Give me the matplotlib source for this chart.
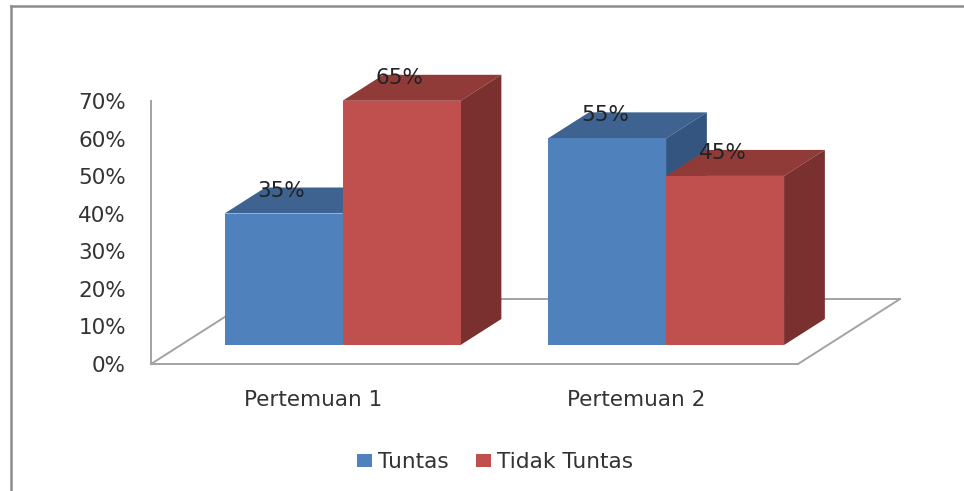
import matplotlib
matplotlib.use("Agg")
import matplotlib.pyplot as plt
from matplotlib.lines import Line2D
from matplotlib.patches import Patch

categories = ["Pertemuan 1", "Pertemuan 2"]
series_names = ["Tuntas", "Tidak Tuntas"]
tuntas = [35, 55]
tidak_tuntas = [65, 45]
y_ticks = [0, 10, 20, 30, 40, 50, 60, 70]

# colours: front, top, side
blue = ("#4F81BD", "#3F6390", "#33557F")
red = ("#C0504D", "#913B38", "#7A302E")
grey = "#A3A3A3"

W, H = 964, 491
fig = plt.figure(figsize=(W / 100, H / 100), dpi=100)
ax = fig.add_axes([151 / W, (H - 364) / H, 647 / W, 263 / H])
ax.set_xlim(0, len(categories))
ax.set_ylim(0, 70)

# fake 3d: the depth of the floor as a shift in data units
shift_x = 102 / 323.5
shift_y = 65 / (263 / 70)
bar_w = 118 / 323.5
d_front = 19 / 65
d_back = 45 / 65


def project(x, y, d):
    return x + d * shift_x, y + d * shift_y


def poly(points, color, z):
    xs, ys = zip(*[project(*p) for p in points])
    ax.fill(xs, ys, color=color, lw=0, zorder=z, clip_on=False)


def draw_bar(x0, value, colors, z):
    x1 = x0 + bar_w
    poly([(x0, value, d_front), (x1, value, d_front), (x1, value, d_back), (x0, value, d_back)], colors[1], z)
    poly([(x1, 0, d_front), (x1, value, d_front), (x1, value, d_back), (x1, 0, d_back)], colors[2], z)
    poly([(x0, 0, d_front), (x1, 0, d_front), (x1, value, d_front), (x0, value, d_front)], colors[0], z + 0.1)
    lx, ly = project(x0 + bar_w / 2, value, d_front)
    ax.annotate(f"{value}%", (lx, ly), xytext=(-1.5, 16.5), textcoords="offset points",
                ha="center", va="center", fontsize=15.5, color="#222222", zorder=10,
                annotation_clip=False)


# floor
n = len(categories)
for a, b in [((0, 0, 0), (0, 0, 1)), ((0, 0, 1), (n, 0, 1)), ((n, 0, 1), (n, 0, 0))]:
    pa, pb = project(*a), project(*b)
    ax.plot([pa[0], pb[0]], [pa[1], pb[1]], color=grey, lw=1.4, zorder=1, clip_on=False)

for i in range(n):
    draw_bar(i + 0.5 - bar_w, tuntas[i], blue, 2 + i * 2)
    draw_bar(i + 0.5, tidak_tuntas[i], red, 3 + i * 2)

ax.set_yticks(y_ticks)
ax.set_yticklabels([f"{v}%" for v in y_ticks], fontsize=15.5, color="#333333")
ax.set_xticks([i + 0.5 for i in range(n)])
ax.set_xticklabels(categories, fontsize=15.5, color="#333333")
ax.tick_params(axis="y", length=0, pad=18)
ax.tick_params(axis="x", length=0, pad=19)
ax.spines["top"].set_visible(False)
ax.spines["right"].set_visible(False)
for s in ["left", "bottom"]:
    ax.spines[s].set_color(grey)
    ax.spines[s].set_linewidth(1.4)
ax.patch.set_alpha(0)

handles = [Patch(facecolor=blue[0], label=series_names[0]),
           Patch(facecolor=red[0], label=series_names[1])]
fig.legend(handles=handles, loc="center", bbox_to_anchor=(495 / W, (H - 462) / H), ncol=2,
           frameon=False, prop={"size": 15.6}, labelcolor="#333333", handlelength=0.69,
           handleheight=0.53, handletextpad=0.28, columnspacing=1.24, borderpad=0)

# outer frame, only top and left are inside the crop
fig.add_artist(Line2D([10.5 / W, 10.5 / W], [0, (H - 6) / H], color="#8C8C8C", lw=1.8))
fig.add_artist(Line2D([10.5 / W, 1], [(H - 6) / H, (H - 6) / H], color="#8C8C8C", lw=1.8))

fig.savefig("out.png", dpi=100)
